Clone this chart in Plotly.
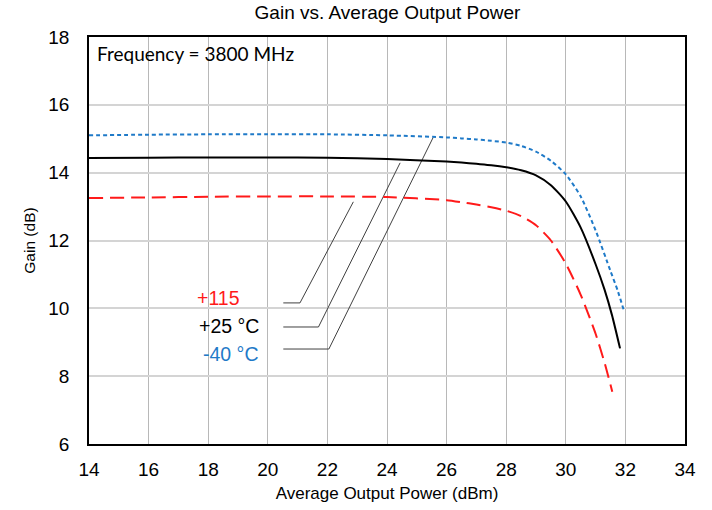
import plotly.graph_objects as go

# Data
x_m40 = [14, 16, 18, 20, 22, 24, 26, 26.5, 27, 27.5, 28, 28.5, 29, 29.5, 30, 30.5, 31.0, 31.5, 31.75, 31.95]
g_m40 = [15.10, 15.12, 15.13, 15.13, 15.13, 15.10, 15.04, 15.01, 14.98, 14.94, 14.89, 14.79, 14.62, 14.35, 13.95, 13.3, 12.3, 11.1, 10.5, 9.93]

x_25 = [14, 16, 18, 20, 22, 24, 26, 26.5, 27, 27.5, 28, 28.5, 29, 29.5, 30, 30.5, 31.0, 31.3, 31.55, 31.82]
g_25 = [14.43, 14.44, 14.45, 14.45, 14.44, 14.40, 14.33, 14.30, 14.26, 14.22, 14.16, 14.07, 13.92, 13.63, 13.15, 12.38, 11.3, 10.55, 9.8, 8.82]

x_115 = [14, 16, 18, 20, 22, 24, 26, 26.5, 27, 27.5, 28, 28.5, 29, 29.5, 30, 30.5, 31.0, 31.3, 31.56]
g_115 = [13.25, 13.27, 13.29, 13.30, 13.30, 13.28, 13.19, 13.13, 13.06, 12.98, 12.88, 12.72, 12.45, 12.0, 11.32, 10.4, 9.25, 8.4, 7.54]

# Leader lines (label -> curve)
lead_115_x = [20.52, 21.08, 22.87]
lead_115_y = [10.16, 10.16, 13.14]
lead_25_x = [20.52, 21.70, 24.44]
lead_25_y = [9.45, 9.45, 14.29]
lead_m40_x = [20.52, 22.05, 25.55]
lead_m40_y = [8.80, 8.80, 15.04]

x_ticks = list(range(14, 35, 2))
y_ticks = list(range(6, 19, 2))

fig = go.Figure()

# label background box
fig.add_shape(type="rect", xref="x", yref="y", x0=17.46, x1=20.17, y0=8.18, y1=10.74,
              fillcolor="white", line=dict(width=0), layer="below")

for lx, ly in [(lead_115_x, lead_115_y), (lead_25_x, lead_25_y), (lead_m40_x, lead_m40_y)]:
    fig.add_trace(go.Scatter(x=lx, y=ly, mode="lines", line=dict(color="#404040", width=1),
                             hoverinfo="skip", showlegend=False))

fig.add_trace(go.Scatter(x=x_m40, y=g_m40, mode="lines", name="-40 °C",
                         line=dict(color="#1f7ac8", width=2, dash="4px,3px", shape="spline", smoothing=0.6)))
fig.add_trace(go.Scatter(x=x_25, y=g_25, mode="lines", name="+25 °C",
                         line=dict(color="black", width=2, shape="spline", smoothing=0.6)))
fig.add_trace(go.Scatter(x=x_115, y=g_115, mode="lines", name="+115",
                         line=dict(color="#ff1a1a", width=2, dash="14px,7px", shape="spline", smoothing=0.6)))

W, H = 712, 510
fig.update_layout(
    width=W, height=H,
    margin=dict(l=89, r=27, t=37, b=66),
    paper_bgcolor="white", plot_bgcolor="white",
    showlegend=False,
    font=dict(family="Liberation Sans, Arial, sans-serif", color="black"),
    title=dict(text="Gain vs. Average Output Power", x=387.5 / W, xanchor="center",
               y=1 - 12.5 / H, yanchor="middle", yref="container", font=dict(size=19, color="black")),
    xaxis=dict(range=[14, 34], tickvals=x_ticks, showgrid=True, gridcolor="#b8b8b8", gridwidth=1,
               showline=True, linecolor="black", linewidth=1.5, mirror=True, automargin=False,
               ticks="", tickfont=dict(size=19), zeroline=False, ticklabelstandoff=7,
               title=dict(text="Average Output Power (dBm)", font=dict(size=17), standoff=9)),
    yaxis=dict(range=[6, 18], tickvals=y_ticks, showgrid=True, gridcolor="#d4d4d4", gridwidth=1.5,
               showline=True, linecolor="black", linewidth=1.5, mirror=True, automargin=False,
               ticks="", tickfont=dict(size=19), zeroline=False, ticklabelstandoff=14,
               title=dict(text="Gain (dB)", font=dict(size=15.5), standoff=9)),
)

fig.add_annotation(x=6 / 596, y=(444 - 54) / 407, xref="paper", yref="paper", xanchor="left", yanchor="middle",
                   text="Frequency = 3800 MHz", showarrow=False,
                   font=dict(family="Lato, sans-serif", size=19, color="black"))

labels = [("+115", 10.30, "#ff1a1a", 195), ("+25 °C", 9.47, "black", 197), ("-40 °C", 8.65, "#1f7ac8", 201)]
for txt, yv, col, px in labels:
    fig.add_annotation(x=14 + (px - 89) / 29.8, y=yv, xref="x", yref="y", xanchor="left", yanchor="middle",
                       text=txt, showarrow=False, font=dict(size=19.5, color=col))

# remove the default 8px page margin so the 712x510 figure fills the window
fig.write_html("out.html", config={"displayModeBar": False},
               post_script="document.body.style.margin='0';")
